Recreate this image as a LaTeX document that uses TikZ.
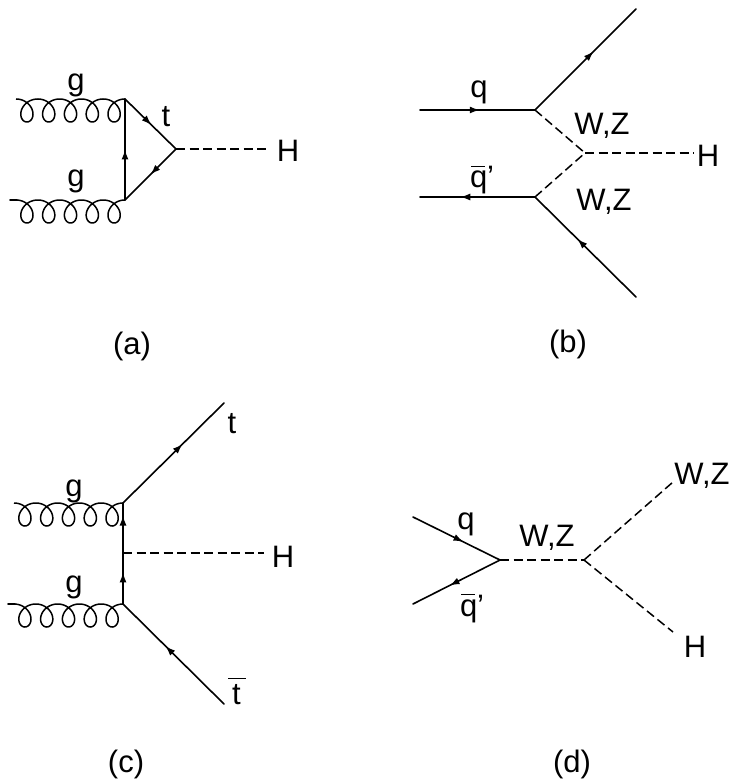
\documentclass[tikz,border=0pt]{standalone}
\usepackage{fontspec}
\setmainfont{Liberation Sans}
\usetikzlibrary{arrows.meta,decorations.markings}
\newcommand{\barred}[4]{\leavevmode\rlap{\kern#1pt\raisebox{#2pt}{\rule{#3pt}{1.3pt}}}#4}
\tikzset{
  x=1pt,y=-1pt,
  every node/.style={inner sep=0pt,outer sep=0pt,font=\fontsize{31}{32}\selectfont},
  lab/.style={anchor=base},
  labw/.style={anchor=base west},
  plain/.style={line width=1.6pt,line cap=round},
  fermion/.style={plain,decoration={markings,mark=at position #1 with {\arrow{Latex[length=10pt,width=7pt]}}},postaction={decorate}},
  scalar/.style={line width=1.5pt,dash pattern=on 9pt off 4.5pt},
  gluon/.style={line width=1.5pt,line join=round}
}
\newcommand{\gluonto}[1]{\draw[gluon,shift={(#1)}] plot[domain=0:31.416,samples=400,smooth] ({-109+3.47*\x+11*sin(\x r)},{11.5*(1-cos(\x r))});}
\begin{document}
\begin{tikzpicture}
\useasboundingbox (0,0) rectangle (734,783);
% (a)
\coordinate (a1) at (125,99);
\coordinate (a2) at (125,200);
\coordinate (a3) at (176,149);
\coordinate (aH) at (270,149);
\coordinate (as) at (10,200);
\coordinate (ae) at (17,200);
\gluonto{a1}
\gluonto{a2}
\draw[plain] (as) -- (ae);
\draw[fermion=.52] (a1) -- (a3);
\draw[fermion=.5] (a2) -- (a1);
\draw[fermion=.5] (a3) -- (a2);
\draw[scalar] (a3) -- (aH);
\node[lab] (ag1) at (76,91) {g};
\node[lab] (ag2) at (76,187) {g};
\node[lab] (at) at (166,127) {t};
\node[lab] (aHl) at (288,162) {H};
\node[lab] (acap) at (132,354) {(a)};
% (b)
\coordinate (b1) at (535,110);
\coordinate (b2) at (535,197);
\coordinate (b3) at (585,153);
\coordinate (bl1) at (420,110);
\coordinate (bl2) at (420,197);
\coordinate (bo1) at (636,9);
\coordinate (bo2) at (636,297);
\coordinate (bH) at (694,153);
\draw[fermion=.52] (bl1) -- (b1);
\draw[fermion=.65] (b2) -- (bl2);
\draw[fermion=.58] (b1) -- (bo1);
\draw[fermion=.58] (bo2) -- (b2);
\draw[scalar] (b1) -- (b3);
\draw[scalar] (b2) -- (b3);
\draw[scalar] (b3) -- (bH);
\node[lab] (bq) at (479,98) {q};
\node[labw] (bqb) at (470,188) {\barred{1}{21}{14}{q’}};
\node[lab] (bwz1) at (602,135) {W,Z};
\node[lab] (bwz2) at (604,211) {W,Z};
\node[lab] (bHl) at (708,167) {H};
\node[lab] (bcap) at (568,352) {(b)};
% (c)
\coordinate (c1) at (123,503);
\coordinate (c2) at (123,604);
\coordinate (c3) at (123,553);
\coordinate (cH) at (264,553);
\coordinate (ct) at (224,403);
\coordinate (ctb) at (224,704);
\coordinate (cs) at (8,604);
\coordinate (ce) at (15,604);
\gluonto{c1}
\gluonto{c2}
\draw[plain] (cs) -- (ce);
\draw[fermion=.62] (c2) -- (c3);
\draw[fermion=.75] (c3) -- (c1);
\draw[fermion=.59] (c1) -- (ct);
\draw[fermion=.58] (ctb) -- (c2);
\draw[scalar] (c3) -- (cH);
\node[lab] (cg1) at (74,496) {g};
\node[lab] (cg2) at (74,592) {g};
\node[lab] (ctl) at (232,433) {t};
\node[labw] (ctbl) at (232,704) {\barred{-4}{25}{18}{t}};
\node[lab] (cHl) at (283,567) {H};
\node[lab] (ccap) at (126,772) {(c)};
% (d)
\coordinate (d1) at (500,560);
\coordinate (d2) at (584,560);
\coordinate (dq) at (413,517);
\coordinate (dqb) at (413,604);
\coordinate (dw) at (673,482);
\coordinate (dH) at (673,632);
\draw[fermion=.58] (dq) -- (d1);
\draw[fermion=.58] (d1) -- (dqb);
\draw[scalar] (d1) -- (d2);
\draw[scalar] (d2) -- (dw);
\draw[scalar] (d2) -- (dH);
\node[lab] (dql) at (466,529) {q};
\node[labw] (dqbl) at (460,616) {\barred{1}{21}{14}{q’}};
\node[lab] (dwz1) at (547,546) {W,Z};
\node[lab] (dwz2) at (702,484) {W,Z};
\node[lab] (dHl) at (695,657) {H};
\node[lab] (dcap) at (572,772) {(d)};
\end{tikzpicture}
\end{document}
